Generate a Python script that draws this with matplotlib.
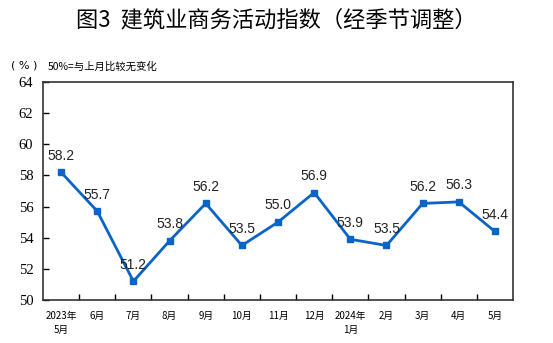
import numpy as np
import matplotlib.pyplot as plt
from matplotlib.ticker import FixedLocator

plt.rcParams['font.family'] = ['Noto Sans CJK SC', 'DejaVu Sans']

months = ['2023年\n5月', '6月', '7月', '8月', '9月', '10月', '11月', '12月',
          '2024年\n1月', '2月', '3月', '4月', '5月']
values = [58.2, 55.7, 51.2, 53.8, 56.2, 53.5, 55.0, 56.9, 53.9, 53.5, 56.2, 56.3, 54.4]
yticks = [50, 52, 54, 56, 58, 60, 62, 64]

fig = plt.figure(figsize=(5.53, 3.43), dpi=100)
ax = fig.add_axes([0.0778, 0.1254, 0.8499, 0.6356])

x = np.arange(len(values))
ax.plot(x, values, color='#0A64C8', lw=2, marker='s', ms=5, zorder=3)

for xi, v in zip(x, values):
    ax.annotate(f'{v:.1f}', (xi, v), xytext=(0, 7), textcoords='offset points',
                ha='center', va='bottom', fontsize=10, family='Liberation Sans',
                color='#222222')

ax.set_xlim(-0.5, len(values) - 0.5)
ax.set_ylim(50, 64)
ax.set_yticks(yticks)
ax.set_yticklabels([str(t) for t in yticks])
for lbl in ax.get_yticklabels():
    lbl.set_fontfamily(['Liberation Serif'])
    lbl.set_fontsize(10.5)
ax.tick_params(axis='y', direction='in', length=4, width=1, pad=7)

ax.set_xticks(x)
ax.set_xticklabels(months, fontsize=7, linespacing=1.5)
ax.tick_params(axis='x', which='major', length=0, pad=8)
ax.xaxis.set_minor_locator(FixedLocator(np.arange(0.5, len(values) - 1, 1)))
ax.tick_params(axis='x', which='minor', direction='in', length=4, width=1)

for s in ax.spines.values():
    s.set_color('#333333')
    s.set_linewidth(1.2)

fig.text(0.5, 0.942, '图3  建筑业商务活动指数（经季节调整）', ha='center', va='center',
         fontsize=16)
fig.text(0.068, 0.81, '( % )', ha='right', va='center', fontsize=8, family='DejaVu Sans')
fig.text(0.087, 0.807, '50%=与上月比较无变化', ha='left', va='center', fontsize=7.5)

fig.savefig('out.png', dpi=100)
